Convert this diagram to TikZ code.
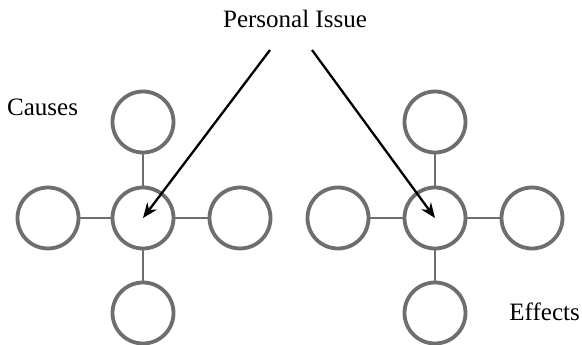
\documentclass[tikz,border=0pt]{standalone}
\usepackage{fontspec}
\setmainfont{Liberation Serif}
\usetikzlibrary{arrows.meta}
\begin{document}
\begin{tikzpicture}[x=1pt,y=-1pt,
  bubble/.style={circle,draw=ringgray,line width=3.8pt,minimum size=61pt,inner sep=0pt},
  spoke/.style={draw=ringgray,line width=2pt},
  pointer/.style={draw=black,line width=2.3pt,-{Stealth[length=15pt,width=12pt]}},
  label/.style={font=\fontsize{25}{28}\selectfont,inner sep=0pt}]
\definecolor{ringgray}{HTML}{6E6E6E}
\useasboundingbox (0,0) rectangle (582,345);
% left cluster: causes
\node[bubble] (lc) at (143,218) {};
\node[bubble] (lt) at (143,122) {};
\node[bubble] (lb) at (143,313) {};
\node[bubble] (ll) at (48,218) {};
\node[bubble] (lr) at (240,218) {};
\foreach \n in {lt,lb,ll,lr} \draw[spoke] (lc) -- (\n);
% right cluster: effects
\node[bubble] (rc) at (435,218) {};
\node[bubble] (rt) at (435,122) {};
\node[bubble] (rb) at (435,313) {};
\node[bubble] (rl) at (338,218) {};
\node[bubble] (rr) at (532,218) {};
\foreach \n in {rt,rb,rl,rr} \draw[spoke] (rc) -- (\n);
% labels
\node[label] (issue) at (295,19) {Personal Issue};
\node[label,anchor=west] (causes) at (7,107) {Causes};
\node[label,anchor=east] (effects) at (580,312) {Effects};
% arrows from the issue into both hubs
\coordinate (sl) at (270,50);
\coordinate (sr) at (312,50);
\draw[pointer] (sl) -- (lc.center);
\draw[pointer] (sr) -- (rc.center);
\end{tikzpicture}
\end{document}
